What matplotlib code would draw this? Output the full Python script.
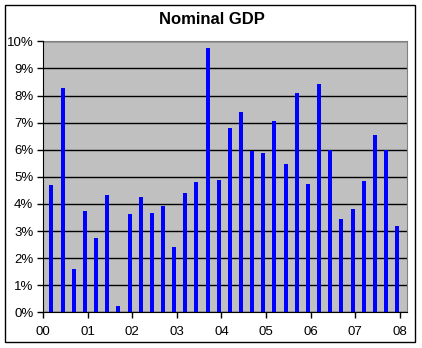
import numpy as np
import matplotlib.pyplot as plt
from matplotlib.patches import Rectangle
from matplotlib.ticker import FuncFormatter

# crecimiento trimestral del PIB nominal, 2000Q1 - 2007Q4 (%)
quarters = [f"{y}Q{q}" for y in range(2000, 2008) for q in range(1, 5)]
gdp = [4.70, 8.28, 1.60, 3.74,
       2.74, 4.33, 0.24, 3.63,
       4.25, 3.66, 3.92, 2.41,
       4.40, 4.81, 9.75, 4.88,
       6.80, 7.39, 5.95, 5.88,
       7.06, 5.47, 8.08, 4.73,
       8.41, 5.99, 3.44, 3.81,
       4.85, 6.54, 5.99, 3.18]
years = list(range(2000, 2009))
year_labels = ["00", "01", "02", "03", "04", "05", "06", "07", "08"]

plt.rcParams['font.family'] = ['Liberation Sans', 'DejaVu Sans']

# posicion de cada barra en años (fecha del trimestre en eje de fechas)
xpos = [int(q[:4]) + 0.19 + 0.25 * (int(q[-1]) - 1) for q in quarters]

fig = plt.figure(figsize=(4.22, 3.48), dpi=100)
fig.patch.set_facecolor('white')
fig.patches.append(Rectangle((5 / 422, 1 - 342 / 348), 410 / 422, 337 / 348,
                             transform=fig.transFigure, fill=False,
                             edgecolor='black', linewidth=1))

ax = fig.add_axes([43 / 422, 1 - 312.3 / 348, 364.3 / 422, 271 / 348])
ax.set_facecolor('#c0c0c0')
ax.bar(xpos, gdp, width=0.09, color='#0000ff', zorder=3)

ax.set_xlim(2000, 2000 + 364.3 / 44.6)
ax.set_ylim(0, 10)
ax.set_yticks(range(0, 11))
ax.yaxis.set_major_formatter(FuncFormatter(lambda v, p: f"{int(v)}%"))
ax.set_xticks(years)
ax.set_xticklabels(year_labels)
ax.grid(axis='y', color='black', linewidth=1, zorder=1)
ax.tick_params(direction='out', length=4, width=1, labelsize=9.5, colors='black', pad=3)
ax.tick_params(axis='x', pad=6)

for s in ['top', 'right']:
    ax.spines[s].set_color('#808080')
for s in ['left', 'bottom']:
    ax.spines[s].set_color('black')
    ax.spines[s].set_zorder(4)

fig.text(212 / 422, 1 - 20 / 348, 'Nominal GDP', ha='center', va='center',
         fontsize=12, fontweight='bold')

plt.savefig('out.png', dpi=100)
